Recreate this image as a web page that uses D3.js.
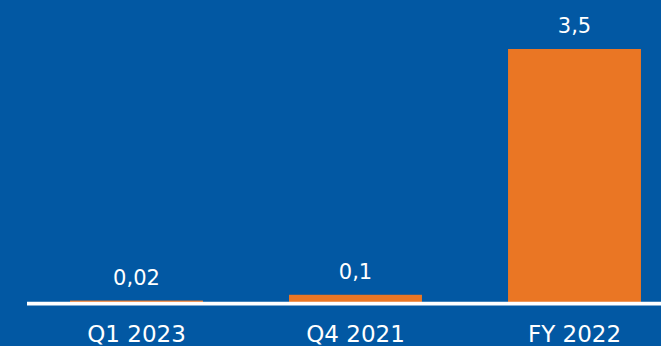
<!DOCTYPE html>
<html>
<head>
<meta charset="utf-8">
<script src="https://cdn.jsdelivr.net/npm/d3@7/dist/d3.min.js"></script>
<style>
  html, body { margin: 0; padding: 0; background: #0258A3; }
  svg { display: block; }
  text { font-family: "DejaVu Sans", sans-serif; fill: #ffffff; }
</style>
</head>
<body>
<svg id="chart" width="661" height="346"></svg>
<script>
// Chart data
const categories = ["Q1 2023", "Q4 2021", "FY 2022"];
const values = [0.02, 0.1, 3.5];
const valueLabels = ["0,02", "0,1", "3,5"];

const width = 661, height = 346;
const baseY = 302;

const svg = d3.select("#chart");

svg.append("rect")
  .attr("width", width).attr("height", height)
  .attr("fill", "#0258A3");

const x = d3.scaleBand()
  .domain(categories)
  .range([27, 684])
  .paddingInner(0.393)
  .paddingOuter(0.1965);

const y = d3.scaleLinear()
  .domain([0, 3.5])
  .range([baseY, 49]);

const data = categories.map((c, i) => ({ cat: c, value: values[i], label: valueLabels[i] }));

// Bars
svg.selectAll("rect.bar")
  .data(data)
  .join("rect")
  .attr("class", "bar")
  .attr("x", d => x(d.cat))
  .attr("width", x.bandwidth())
  .attr("y", d => y(d.value))
  .attr("height", d => baseY - y(d.value))
  .attr("fill", "#EA7624");

// Baseline
svg.append("line")
  .attr("x1", 27).attr("x2", width)
  .attr("y1", baseY + 1.6).attr("y2", baseY + 1.6)
  .attr("stroke", "#ffffff")
  .attr("stroke-width", 3.6);

// Value labels
svg.selectAll("text.value")
  .data(data)
  .join("text")
  .attr("class", "value")
  .attr("x", d => x(d.cat) + x.bandwidth() / 2)
  .attr("y", d => y(d.value) - 16)
  .attr("text-anchor", "middle")
  .attr("font-size", 21)
  .text(d => d.label);

// Category axis
const axis = svg.append("g")
  .attr("transform", `translate(0,${baseY})`)
  .call(d3.axisBottom(x).tickSize(0).tickPadding(0));
axis.select(".domain").remove();
axis.selectAll("text")
  .attr("y", 39.6)
  .attr("dy", null)
  .attr("font-size", 23)
  .attr("fill", "#ffffff")
  .style("font-family", "'DejaVu Sans', sans-serif");
</script>
</body>
</html>
